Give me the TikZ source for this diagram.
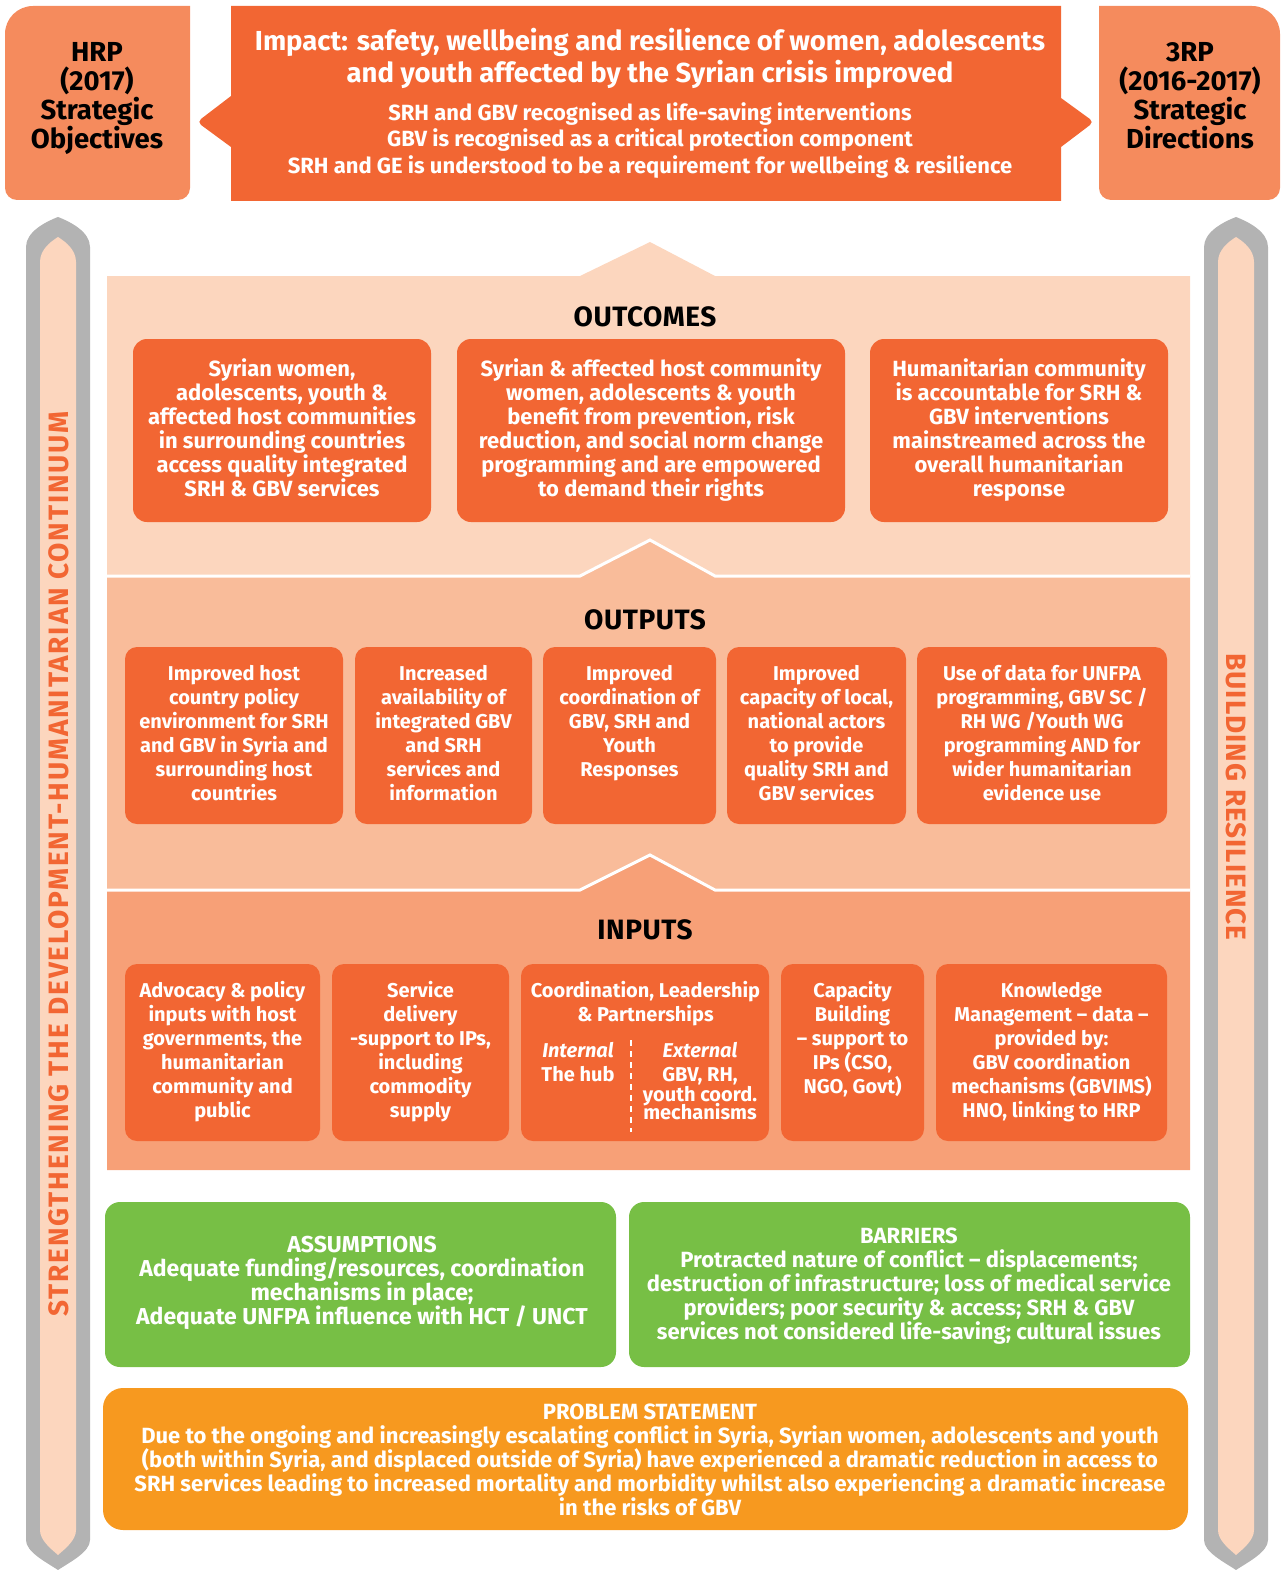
\documentclass[tikz,border=0pt]{standalone}
\usepackage{fontspec}
\setmainfont{Fira Sans}
\newfontfamily\sideleftfont{Fira Sans}[LetterSpace=6.5]
\newfontfamily\siderightfont{Fira Sans}[LetterSpace=3.5]
\newfontfamily\headfont{Fira Sans}[LetterSpace=2]
\newcommand{\tightlines}{\lineskiplimit=-100pt\lineskip=0pt}
\definecolor{dor}{HTML}{F26633}
\definecolor{lor}{HTML}{F58B5D}
\definecolor{pk1}{HTML}{FCD6BE}
\definecolor{pk2}{HTML}{F9BC9A}
\definecolor{pk3}{HTML}{F7A077}
\definecolor{gry}{HTML}{B3B3B3}
\definecolor{grn}{HTML}{77BF45}
\definecolor{yor}{HTML}{F7991F}
\tikzset{
  obox/.style={fill=dor, rounded corners=14pt, inner sep=0pt, draw=none},
  wtxt/.style={text=white, align=center, inner sep=0pt, anchor=north},
  btxt/.style={text=black, align=center, inner sep=0pt},
  fa/.style={font=\fontsize{22}{24}\selectfont\bfseries\tightlines},
  fb/.style={font=\fontsize{20}{24}\selectfont\bfseries\tightlines},
  fhead/.style={font=\headfont\fontsize{28}{30}\selectfont\bfseries},
  fside/.style={text=dor, inner sep=0pt},
}
\begin{document}
\begin{tikzpicture}[x=1pt,y=-1pt]
\useasboundingbox (0,0) rectangle (1283,1570);

% ---- side bars
\fill[gry] (26,247) .. controls (26,232) and (45,222) .. (58,217) .. controls (71,222) and (90,232) .. (90,247)
  -- (90,1540) .. controls (90,1552) and (70,1562) .. (58,1570) .. controls (46,1562) and (26,1552) .. (26,1540) -- cycle;
\fill[pk1] (40,262) .. controls (40,250) and (50,242) .. (58,237) .. controls (66,242) and (76,250) .. (76,262)
  -- (76,1530) .. controls (76,1540) and (66,1548) .. (58,1555) .. controls (50,1548) and (40,1540) .. (40,1530) -- cycle;
\fill[gry] (1204,247) .. controls (1204,232) and (1223,222) .. (1236,217) .. controls (1249,222) and (1268,232) .. (1268,247)
  -- (1268,1540) .. controls (1268,1552) and (1248,1562) .. (1236,1570) .. controls (1224,1562) and (1204,1552) .. (1204,1540) -- cycle;
\fill[pk1] (1218,262) .. controls (1218,250) and (1228,242) .. (1236,237) .. controls (1244,242) and (1254,250) .. (1254,262)
  -- (1254,1530) .. controls (1254,1540) and (1244,1548) .. (1236,1555) .. controls (1228,1548) and (1218,1540) .. (1218,1530) -- cycle;
\node[fside, rotate=90, font=\sideleftfont\fontsize{28}{30}\selectfont\bfseries] (lside) at (59,864) {STRENGTHENING THE DEVELOPMENT-HUMANITARIAN CONTINUUM};
\node[fside, rotate=-90, font=\siderightfont\fontsize{28}{30}\selectfont\bfseries] (rside) at (1236,797) {BUILDING RESILIENCE};

% ---- top row
\fill[lor] (5,100) [rounded corners=28pt] -- (5,6) [sharp corners] -- (190,6) [rounded corners=12pt] -- (190,200) -- (5,200) [sharp corners] -- cycle;
\fill[lor] (1280,100) [rounded corners=28pt] -- (1280,6) [sharp corners] -- (1099,6) [rounded corners=12pt] -- (1099,200) -- (1280,200) [sharp corners] -- cycle;
\fill[dor] (231,6) -- (1061,6) -- (1061,98) [rounded corners=5pt] -- (1094,122) [sharp corners] -- (1061,147) -- (1061,201)
  -- (231,201) -- (231,147) [rounded corners=5pt] -- (197,122) [sharp corners] -- (231,96) -- cycle;
\node[btxt, anchor=north, font=\fontsize{27.5}{29}\selectfont\bfseries\tightlines] (hrp) at (97,41.5) {\strut HRP\\(2017)\\Strategic\\Objectives};
\node[btxt, anchor=north, font=\fontsize{27.5}{29}\selectfont\bfseries\tightlines] (trp) at (1190,41.5) {\strut 3RP\\(2016-2017)\\Strategic\\Directions};
\node[wtxt, font=\fontsize{27.5}{32}\selectfont\bfseries\tightlines] (imphead) at (650,28) {\strut Impact: safety, wellbeing and resilience of women, adolescents\\and youth affected by the Syrian crisis improved};
\node[wtxt, font=\fontsize{22}{26.5}\selectfont\bfseries\tightlines] (impsub) at (650,101.5) {\strut SRH and GBV recognised as life-saving interventions\\GBV is recognised as a critical protection component\\SRH and GE is understood to be a requirement for wellbeing \& resilience};

% ---- bands
\fill[pk1] (107,276) -- (580,276) -- (650,242) -- (715,276) -- (1190,276) -- (1190,576) -- (107,576) -- cycle;
\fill[pk2] (107,576) -- (580,576) -- (650,540) -- (715,576) -- (1190,576) -- (1190,890) -- (107,890) -- cycle;
\fill[pk3] (107,890) -- (580,890) -- (650,855) -- (715,890) -- (1190,890) -- (1190,1170) -- (107,1170) -- cycle;
\draw[white, line width=3pt] (107,576) -- (580,576) -- (650,540) -- (715,576) -- (1190,576);
\draw[white, line width=3pt] (107,890) -- (580,890) -- (650,855) -- (715,890) -- (1190,890);

% ---- outcomes
\node[btxt, fhead] (outcomes) at (645,317) {OUTCOMES};
\node[obox, minimum width=298pt, minimum height=183pt] (oc1) at (282,430.5) {};
\node[obox, minimum width=388pt, minimum height=183pt] (oc2) at (651,430.5) {};
\node[obox, minimum width=298pt, minimum height=183pt] (oc3) at (1019,430.5) {};
\node[wtxt, fa] (oc1t) at (282,358.5) {\strut Syrian women,\\adolescents, youth \&\\affected host communities\\in surrounding countries\\access quality integrated\\SRH \& GBV services};
\node[wtxt, fa] (oc2t) at (651,358.5) {\strut Syrian \& affected host community\\women, adolescents \& youth\\benefit from prevention, risk\\reduction, and social norm change\\programming and are empowered\\to demand their rights};
\node[wtxt, fa] (oc3t) at (1019,358.5) {\strut Humanitarian community\\is accountable for SRH \&\\GBV interventions\\mainstreamed across the\\overall humanitarian\\response};

% ---- outputs
\node[btxt, fhead] (outputs) at (645,620) {OUTPUTS};
\node[obox, rounded corners=12pt, minimum width=218pt, minimum height=177pt] (op1) at (234,735.5) {};
\node[obox, rounded corners=12pt, minimum width=177pt, minimum height=177pt] (op2) at (443.5,735.5) {};
\node[obox, rounded corners=12pt, minimum width=173pt, minimum height=177pt] (op3) at (629.5,735.5) {};
\node[obox, rounded corners=12pt, minimum width=179pt, minimum height=177pt] (op4) at (816.5,735.5) {};
\node[obox, rounded corners=12pt, minimum width=250pt, minimum height=177pt] (op5) at (1042,735.5) {};
\node[wtxt, fb] (op1t) at (234,663) {\strut Improved host\\country policy\\environment for SRH\\and GBV in Syria and\\surrounding host\\countries};
\node[wtxt, fb] (op2t) at (443.5,663) {\strut Increased\\availability of\\integrated GBV\\and SRH\\services and\\information};
\node[wtxt, fb] (op3t) at (629.5,663) {\strut Improved\\coordination of\\GBV, SRH and\\Youth\\Responses};
\node[wtxt, fb] (op4t) at (816.5,663) {\strut Improved\\capacity of local,\\national actors\\to provide\\quality SRH and\\GBV services};
\node[wtxt, fb] (op5t) at (1042,663) {\strut Use of data for UNFPA\\programming, GBV SC /\\RH WG /Youth WG\\programming AND for\\wider humanitarian\\evidence use};

% ---- inputs
\node[btxt, fhead] (inputs) at (645,930) {INPUTS};
\node[obox, rounded corners=12pt, minimum width=195pt, minimum height=177pt] (ip1) at (222.5,1052.5) {};
\node[obox, rounded corners=12pt, minimum width=177pt, minimum height=177pt] (ip2) at (420.5,1052.5) {};
\node[obox, rounded corners=12pt, minimum width=248pt, minimum height=177pt] (ip3) at (645,1052.5) {};
\node[obox, rounded corners=12pt, minimum width=143pt, minimum height=177pt] (ip4) at (852.5,1052.5) {};
\node[obox, rounded corners=12pt, minimum width=231pt, minimum height=177pt] (ip5) at (1051.5,1052.5) {};
\node[wtxt, fb] (ip1t) at (222.5,980) {\strut Advocacy \& policy\\inputs with host\\governments, the\\humanitarian\\community and\\public};
\node[wtxt, fb] (ip2t) at (420.5,980) {\strut Service\\delivery\\-support to IPs,\\including\\commodity\\supply};
\node[wtxt, fb] (ip3t) at (645.5,980) {\strut Coordination, Leadership\\\& Partnerships};
\node[wtxt, fb] (ip3a) at (578,1040) {\strut\textit{Internal}\\The hub};
\node[wtxt, fb] (ip3b) at (700,1040) {\strut\textit{External}\\GBV, RH,\\[-4pt]youth coord.\\[-6pt]mechanisms};
\coordinate (dtop) at (631,1040);
\coordinate (dbot) at (631,1132);
\draw[white, line width=1.3pt, dash pattern=on 6pt off 5pt] (dtop) -- (dbot);
\node[wtxt, fb] (ip4t) at (852.5,980) {\strut Capacity\\Building\\– support to\\IPs (CSO,\\NGO, Govt)};
\node[wtxt, fb] (ip5t) at (1051.5,980) {\strut Knowledge\\Management – data –\\provided by:\\GBV coordination\\mechanisms (GBVIMS)\\HNO, linking to HRP};

% ---- assumptions / barriers
\node[obox, fill=grn, rounded corners=15pt, minimum width=511pt, minimum height=165pt] (asm) at (360.5,1284.5) {};
\node[obox, fill=grn, rounded corners=15pt, minimum width=561pt, minimum height=165pt] (bar) at (909.5,1284.5) {};
\node[wtxt, font=\fontsize{23}{24}\selectfont\bfseries\tightlines] (asmt) at (362,1235.5) {\strut ASSUMPTIONS\\Adequate funding/resources, coordination\\mechanisms in place;\\Adequate UNFPA influence with HCT / UNCT};
\node[wtxt, font=\fontsize{22}{24}\selectfont\bfseries\tightlines] (bart) at (909,1226.5) {\strut BARRIERS\\Protracted nature of conflict – displacements;\\destruction of infrastructure; loss of medical service\\providers; poor security \& access; SRH \& GBV\\services not considered life-saving; cultural issues};

% ---- problem
\node[obox, fill=yor, rounded corners=20pt, minimum width=1085pt, minimum height=142pt] (prob) at (645.5,1459) {};
\node[wtxt, font=\fontsize{22}{24}\selectfont\bfseries\tightlines] (probt) at (650,1402.5) {\strut PROBLEM STATEMENT\\Due to the ongoing and increasingly escalating conflict in Syria, Syrian women, adolescents and youth\\(both within Syria, and displaced outside of Syria) have experienced a dramatic reduction in access to\\SRH services leading to increased mortality and morbidity whilst also experiencing a dramatic increase\\in the risks of GBV};
\end{tikzpicture}
\end{document}
